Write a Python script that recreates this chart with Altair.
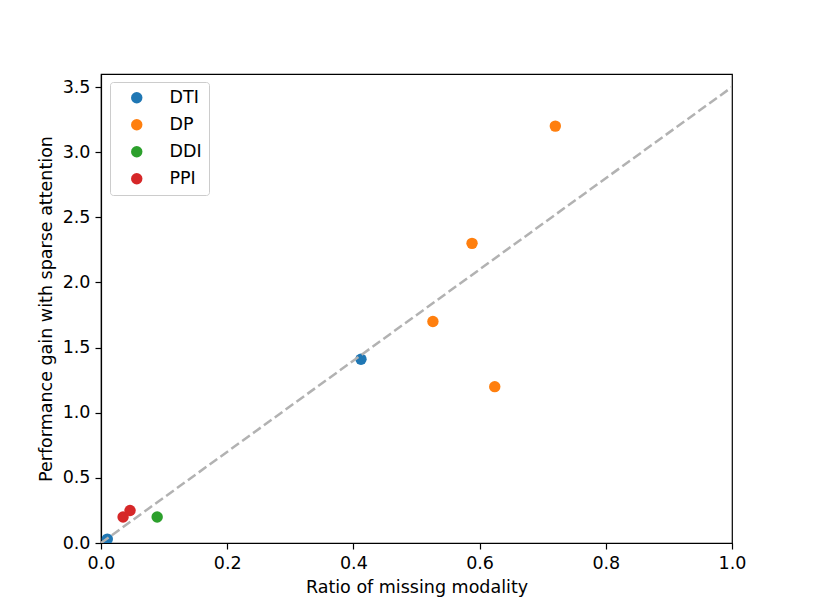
import altair as alt
import pandas as pd

# Data
task = ["DTI", "DTI", "DP", "DP", "DP", "DP", "DDI", "PPI", "PPI"]
ratio = [0.01, 0.412, 0.588, 0.526, 0.624, 0.72, 0.089, 0.035, 0.046]
gain = [0.03, 1.41, 2.3, 1.7, 1.2, 3.2, 0.2, 0.2, 0.25]

categories = ["DTI", "DP", "DDI", "PPI"]
colors = ["#1f77b4", "#ff7f0e", "#2ca02c", "#d62728"]

line_x = [0.0, 1.0]
line_y = [0.0, 3.5]

x_ticks = [0.0, 0.2, 0.4, 0.6, 0.8, 1.0]
y_ticks = [0.0, 0.5, 1.0, 1.5, 2.0, 2.5, 3.0, 3.5]

pts = pd.DataFrame({"task": task, "ratio": ratio, "gain": gain})
ln = pd.DataFrame({"x": line_x, "y": line_y})

FONT = "DejaVu Sans"
FS = 17.5

x_scale = alt.Scale(domain=[0, 1.0], nice=False, zero=False)
y_scale = alt.Scale(domain=[0, 3.6], nice=False, zero=False)

points = alt.Chart(pts).mark_circle(size=130, opacity=1, clip=True).encode(
    x=alt.X("ratio:Q", scale=x_scale,
            axis=alt.Axis(values=x_ticks, format=".1f", titlePadding=7),
            title="Ratio of missing modality"),
    y=alt.Y("gain:Q", scale=y_scale,
            axis=alt.Axis(values=y_ticks, format=".1f", titlePadding=7),
            title="Performance gain with sparse attention"),
    color=alt.Color("task:N", scale=alt.Scale(domain=categories, range=colors),
                    sort=categories,
                    legend=alt.Legend(title=None, orient="none", legendX=9, legendY=8,
                                      labelFont=FONT, labelFontSize=FS, labelColor="black",
                                      symbolSize=130, symbolType="circle",
                                      symbolOffset=11, labelOffset=24,
                                      rowPadding=8, padding=7,
                                      strokeColor="#cccccc", fillColor="white",
                                      cornerRadius=3)),
)

line = alt.Chart(ln).mark_line(color="#b2b2b2", strokeWidth=2.5,
                               strokeDash=[9.4, 4], clip=True).encode(
    x=alt.X("x:Q", scale=x_scale),
    y=alt.Y("y:Q", scale=y_scale),
)

chart = alt.layer(points, line).properties(
    width=631, height=469,
    autosize=alt.AutoSizeParams(type="none"),
    padding={"left": 93, "top": 66, "right": 70, "bottom": 60},
    background="white",
).configure_view(stroke="black", strokeWidth=1.2).configure_axis(
    grid=False, tickSize=6, tickColor="black", tickWidth=1.2,
    domainColor="black", domainWidth=1.2, labelColor="black",
    labelFontSize=FS, labelFont=FONT, labelPadding=5, labelFlush=False,
    titleFont=FONT, titleFontSize=FS, titleFontWeight="normal", titleColor="black",
)

chart.save("out.html", embed_options={"renderer": "svg", "actions": False})
